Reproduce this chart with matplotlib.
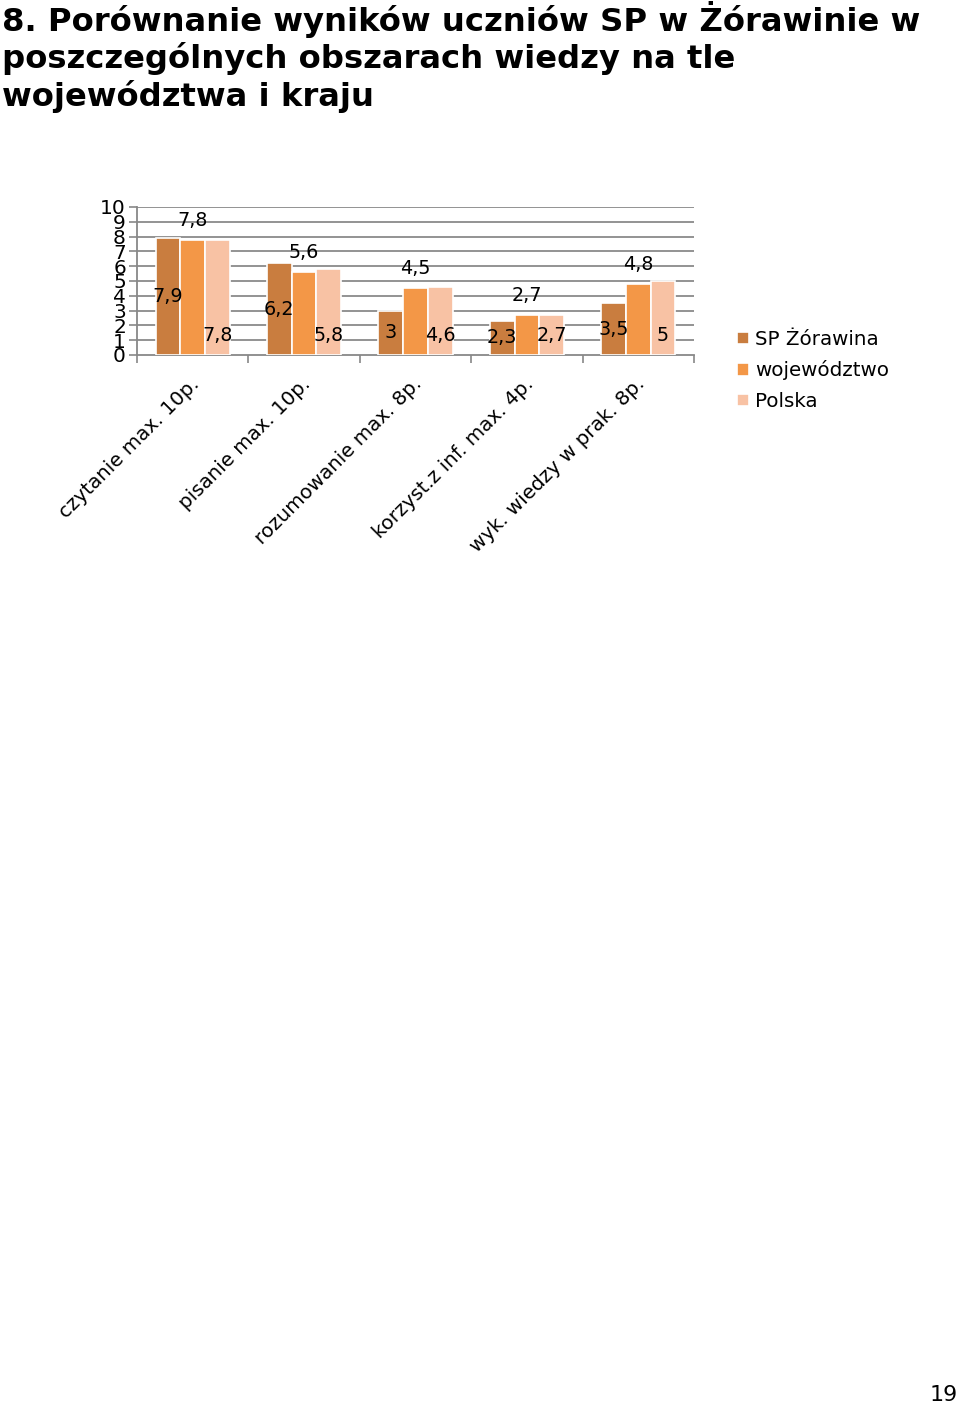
import matplotlib
matplotlib.use("Agg")
import matplotlib.pyplot as plt
import matplotlib.transforms as mtransforms
import numpy as np

categories = ["czytanie max. 10p.", "pisanie max. 10p.", "rozumowanie max. 8p.",
              "korzyst.z inf. max. 4p.", "wyk. wiedzy w prak. 8p."]
series_names = ["SP Żórawina", "województwo", "Polska"]
sp_vals = [7.9, 6.2, 3.0, 2.3, 3.5]
woj_vals = [7.8, 5.6, 4.5, 2.7, 4.8]
pl_vals = [7.8, 5.8, 4.6, 2.7, 5.0]
yticks = list(range(0, 11))
colors = ["#C97D3F", "#F39747", "#F8C2A4"]

def fmt(v):
    s = ("%g" % v)
    return s.replace(".", ",")

plt.rcParams['font.family'] = ['DejaVu Sans']
fig = plt.figure(figsize=(9.6, 14.07), dpi=100)

# Title
fig.text(0.002, 1 - 1 / 1407,
         "8. Porównanie wyników uczniów SP w Żórawinie w\nposzczególnych obszarach wiedzy na tle\nwojewództwa i kraju",
         ha="left", va="top", fontsize=23.2, fontweight="bold", linespacing=1.17)

L, R = 137 / 960, 694 / 960
B, T = 1 - 355 / 1407, 1 - 207 / 1407
ax = fig.add_axes([L, B, R - L, T - B])

x = np.arange(len(categories))
w = 0.222
offs = [-w, 0, w]
allvals = [sp_vals, woj_vals, pl_vals]
for k, (vals, c, name) in enumerate(zip(allvals, colors, series_names)):
    ax.bar(x + offs[k], vals, width=w, color=c, edgecolor="white", linewidth=1.2,
           label=name, zorder=3)

lab_fs = 13.8
for i in range(len(categories)):
    ax.text(x[i] + offs[0], sp_vals[i] / 2, fmt(sp_vals[i]), ha="center", va="center",
            fontsize=lab_fs, zorder=5)
    ax.annotate(fmt(woj_vals[i]), (x[i] + offs[1], woj_vals[i]), xytext=(0, 14),
                textcoords="offset points", ha="center", va="center", fontsize=lab_fs, zorder=5)
    ax.annotate(fmt(pl_vals[i]), (x[i] + offs[2], 0), xytext=(0, 14),
                textcoords="offset points", ha="center", va="center", fontsize=lab_fs, zorder=5)

ax.set_xlim(-0.5, len(categories) - 0.5)
ax.set_ylim(0, 10)
ax.set_yticks(yticks)
ax.set_yticklabels([str(t) for t in yticks], fontsize=14.5)
ax.tick_params(axis="y", length=6, width=1.2, color="#888888", pad=2)
for y in yticks[1:]:
    ax.axhline(y, color="#8a8a8a", linewidth=1.3, zorder=1)

ax.set_xticks(x)
ax.set_xticklabels(categories, rotation=45, ha="right", va="top",
                   rotation_mode="anchor", fontsize=14.3)
ax.tick_params(axis="x", which="major", length=0, pad=14)
shift = mtransforms.ScaledTranslation(-3 / 100, 0, fig.dpi_scale_trans)
for lab in ax.get_xticklabels():
    lab.set_transform(lab.get_transform() + shift)
ax.set_xticks(np.arange(-0.5, len(categories), 1.0), minor=True)
ax.tick_params(axis="x", which="minor", length=6, width=1.2, color="#888888")

for s in ["top", "right"]:
    ax.spines[s].set_visible(False)
for s in ["left", "bottom"]:
    ax.spines[s].set_color("#888888")
    ax.spines[s].set_linewidth(1.3)

handles, labels = ax.get_legend_handles_labels()
fig.legend(handles, labels, loc="upper left", bbox_to_anchor=(729 / 960, 1 - 322 / 1407),
           frameon=False, fontsize=14.3, handlelength=0.62, handleheight=0.62,
           handletextpad=0.3, labelspacing=0.58, borderaxespad=0)

fig.text(958 / 960, 1 - 1405 / 1407, "19", ha="right", va="bottom", fontsize=16)

fig.savefig("out.png", dpi=100)
